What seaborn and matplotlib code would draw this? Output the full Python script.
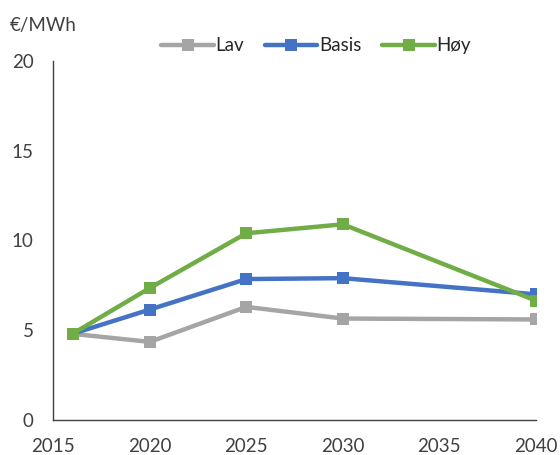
import matplotlib
matplotlib.use("Agg")
import matplotlib.pyplot as plt
import seaborn as sns
import pandas as pd

years = [2016, 2020, 2025, 2030, 2040]
lav = [4.8, 4.35, 6.3, 5.65, 5.6]
basis = [4.8, 6.15, 7.85, 7.9, 7.0]
hoy = [4.8, 7.35, 10.4, 10.9, 6.65]
series_names = ["Lav", "Basis", "Høy"]
colors = ["#A5A5A5", "#4472C4", "#70AD47"]
x_ticks = [2015, 2020, 2025, 2030, 2035, 2040]
y_ticks = [0, 5, 10, 15, 20]

df = pd.DataFrame({
    "år": years * 3,
    "verdi": lav + basis + hoy,
    "scenario": [n for n in series_names for _ in years],
})

sns.set_style("white")
plt.rcParams["font.family"] = ["Lato", "DejaVu Sans"]

fig = plt.figure(figsize=(5.6, 4.55), dpi=100)
ax = fig.add_axes([0.095, 0.077, 0.862, 0.789])

sns.lineplot(data=df, x="år", y="verdi", hue="scenario", hue_order=series_names,
             palette=colors, marker="s", markersize=8, markeredgewidth=0,
             linewidth=3.2, ax=ax, legend=True)

ax.set_xlim(2015, 2040)
ax.set_ylim(0, 20)
ax.set_xticks(x_ticks)
ax.set_yticks(y_ticks)
ax.tick_params(axis="both", labelsize=13.5, colors="#404040", length=0)
ax.tick_params(axis="x", pad=13)
ax.tick_params(axis="y", pad=14)
ax.set_xlabel("")
ax.set_ylabel("")
for s in ["top", "right"]:
    ax.spines[s].set_visible(False)
for s in ["left", "bottom"]:
    ax.spines[s].set_color("#404040")
    ax.spines[s].set_linewidth(1.0)

fig.text(0.018, 0.945, "€/MWh", fontsize=13.5, color="#404040", va="center")

handles, labels = ax.get_legend_handles_labels()
ax.legend(handles, labels, loc="center", bbox_to_anchor=(0.545, 1.042), ncol=3,
          frameon=False, fontsize=13.5, handlelength=2.8, handletextpad=0.1,
          columnspacing=1.1, labelcolor="#262626")

for t in ax.get_xticklabels() + ax.get_yticklabels():
    t.set_clip_on(False)

fig.savefig("out.png", dpi=100)
